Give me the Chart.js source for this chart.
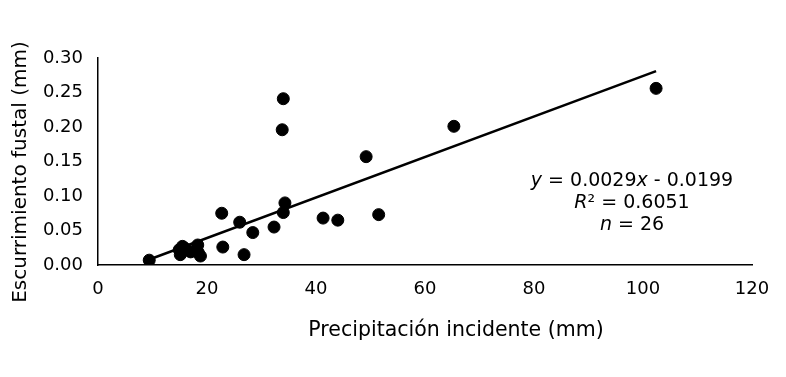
<!DOCTYPE html>
<html>
<head>
<meta charset="utf-8">
<script src="https://cdn.jsdelivr.net/npm/chart.js@4/dist/chart.umd.min.js"></script>
<style>
  html, body { margin: 0; padding: 0; background: #fff; }
  #wrap { width: 786px; height: 377px; }
</style>
</head>
<body>
<div id="wrap"><canvas id="grafico"></canvas></div>
<script>
// datos
const precipitacion = [9.4, 14.9, 15.1, 15.5, 15.8, 16.2, 17.0, 18.3, 18.4, 18.8,
  22.7, 22.9, 26.0, 26.8, 28.4, 32.3, 33.8, 34.0, 34.0, 34.3,
  41.3, 44.0, 49.2, 51.5, 65.3, 102.4];
const escurrimiento = [0.007, 0.022, 0.015, 0.027, 0.025, 0.022, 0.019, 0.029, 0.018, 0.013,
  0.075, 0.026, 0.062, 0.015, 0.047, 0.055, 0.196, 0.241, 0.076, 0.090,
  0.068, 0.065, 0.157, 0.073, 0.201, 0.256];
const tendenciaX = [9.4, 102.4];
const tendenciaY = [0.008, 0.281];
const ticksX = [0, 20, 40, 60, 80, 100, 120];
const ticksY = [0, 0.05, 0.10, 0.15, 0.20, 0.25, 0.30];
const tituloX = 'Precipitación incidente (mm)';
const tituloY = 'Escurrimiento fustal (mm)';

const fuente = 'Verdana, DejaVu Sans, sans-serif';

const puntos = precipitacion.map((x, i) => ({ x: x, y: escurrimiento[i] }));
const linea = tendenciaX.map((x, i) => ({ x: x, y: tendenciaY[i] }));

// texto de la ecuación, con partes en cursiva
const ecuacion = [
  [['y', true], [' = 0.0029', false], ['x', true], [' - 0.0199', false]],
  [['R', true], ['² = 0.6051', false]],
  [['n', true], [' = 26', false]]
];

const pluginTextos = {
  id: 'textos',
  afterDraw(chart) {
    const ctx = chart.ctx;
    ctx.save();
    ctx.fillStyle = '#000';
    ctx.textBaseline = 'middle';
    ecuacion.forEach((partes, i) => {
      let ancho = 0;
      partes.forEach(p => {
        ctx.font = (p[1] ? 'italic ' : '') + '19px ' + fuente;
        ancho += ctx.measureText(p[0]).width;
      });
      let x = 632 - ancho / 2;
      const y = 181 + i * 22;
      partes.forEach(p => {
        ctx.font = (p[1] ? 'italic ' : '') + '19px ' + fuente;
        ctx.fillText(p[0], x, y);
        x += ctx.measureText(p[0]).width;
      });
    });

    // títulos de los ejes
    ctx.textAlign = 'center';
    ctx.font = '20.5px ' + fuente;
    ctx.fillText(tituloX, 456, 331);
    ctx.translate(21, 172);
    ctx.rotate(-Math.PI / 2);
    ctx.font = '20px ' + fuente;
    ctx.fillText(tituloY, 0, 0);
    ctx.restore();
  }
};

new Chart(document.getElementById('grafico'), {
  type: 'scatter',
  data: {
    datasets: [
      {
        data: puntos,
        backgroundColor: '#000',
        borderColor: '#000',
        pointRadius: 6,
        pointHoverRadius: 6
      },
      {
        type: 'line',
        data: linea,
        borderColor: '#000',
        borderWidth: 2.5,
        pointRadius: 0,
        fill: false
      }
    ]
  },
  options: {
    responsive: true,
    maintainAspectRatio: false,
    animation: false,
    layout: { padding: { top: 58, right: 34, bottom: 0, left: 0 } },
    plugins: { legend: { display: false }, tooltip: { enabled: false } },
    scales: {
      x: {
        type: 'linear',
        min: 0, max: 120,
        afterBuildTicks: s => { s.ticks = ticksX.map(v => ({ value: v })); },
        afterFit: s => { s.height = 112; },
        grid: { display: false, drawOnChartArea: false, drawTicks: true, tickLength: 6, color: '#000' },
        border: { display: true, color: '#000', width: 1.5 },
        ticks: { color: '#000', font: { family: fuente, size: 18 }, padding: 8, maxRotation: 0 }
      },
      y: {
        min: 0, max: 0.3,
        afterBuildTicks: s => { s.ticks = ticksY.map(v => ({ value: v })); },
        afterFit: s => { s.width = 98; },
        grid: { display: false, drawOnChartArea: false, drawTicks: true, tickLength: 6, color: '#000' },
        border: { display: true, color: '#000', width: 1.5 },
        ticks: { color: '#000', font: { family: fuente, size: 18 }, padding: 9,
                 callback: v => v.toFixed(2) }
      }
    }
  },
  plugins: [pluginTextos]
});
</script>
</body>
</html>
